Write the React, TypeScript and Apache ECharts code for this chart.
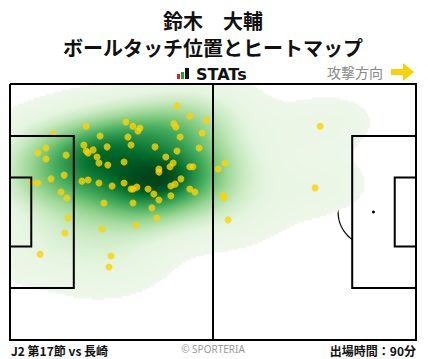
import React, { useEffect, useRef } from "react";
import * as echarts from "echarts";

const PLAYER = "鈴木　大輔";
const SUBTITLE = "ボールタッチ位置とヒートマップ";
const MATCH = "J2 第17節 vs 長崎";
const MINUTES = "出場時間：90分";
const ATTACK = "攻撃方向";
const COPYRIGHT = "© SPORTERIA";

// ball touch positions, metres (x from own goal line 0..105, y from top touchline 0..68)
const touchX = [
  43.2, 46.5, 50.9, 19.7, 30.0, 31.8, 33.6, 33.1, 42.4, 42.9,
  11.1, 23.3, 30.5, 49.7, 44.0, 19.1, 31.3, 25.1, 37.5, 48.9,
  9.3, 7.2, 14.5, 43.2, 19.7, 20.2, 21.5, 9.3, 22.5, 40.3,
  23.0, 29.5, 25.3, 42.2, 41.4, 38.5, 38.5, 46.5, 47.3, 14.0,
  10.6, 5.4, 7.2, 18.6, 20.2, 23.0, 26.4, 29.5, 31.3, 31.8,
  32.8, 35.7, 37.2, 44.2, 42.7, 41.6, 46.5, 47.8, 41.6, 38.5,
  13.2, 14.7, 24.3, 31.8, 36.7, 15.0, 38.0, 14.2, 23.8, 32.6,
  7.8, 26.1, 25.6, 53.8, 55.6, 55.1, 55.3, 56.4, 80.2, 78.9,
];
const touchY = [
  5.8, 8.5, 9.6, 11.2, 10.1, 11.2, 11.7, 12.5, 10.6, 11.4,
  13.3, 13.8, 14.1, 13.0, 14.1, 16.2, 16.2, 16.7, 16.7, 17.0,
  17.0, 18.3, 18.9, 17.8, 17.8, 18.3, 17.5, 19.9, 19.4, 19.4,
  21.0, 20.7, 21.5, 21.0, 22.0, 22.6, 23.4, 22.0, 22.0, 24.2,
  25.2, 26.3, 26.3, 25.8, 25.5, 26.3, 27.1, 26.3, 27.9, 27.9,
  27.4, 27.9, 29.2, 25.2, 26.6, 27.1, 27.9, 28.7, 29.7, 30.8,
  28.7, 30.3, 31.6, 31.6, 32.9, 35.6, 35.6, 39.6, 38.5, 37.5,
  45.2, 45.7, 48.6, 22.6, 21.0, 29.5, 30.3, 36.1, 11.2, 27.6,
];

const PITCH_L = 105;
const PITCH_W = 68;
const COLS = 203;
const ROWS = 128;
const BW_ADJUST = 1.2;
const CUT_LEVEL = 0.36; // in units of one touch's kernel peak
const GAMMA = 0.85;
const GREENS = ["#eef7ea", "#e5f5e0", "#c7e9c0", "#a1d99b", "#74c476", "#41ab5d", "#238b45", "#006d2c", "#00441b"];

function buildDensity() {
  const n = touchX.length;
  let mx = 0, my = 0;
  for (let k = 0; k < n; k++) { mx += touchX[k]; my += touchY[k]; }
  mx /= n; my /= n;
  let sxx = 0, syy = 0, sxy = 0;
  for (let k = 0; k < n; k++) {
    const dx = touchX[k] - mx, dy = touchY[k] - my;
    sxx += dx * dx; syy += dy * dy; sxy += dx * dy;
  }
  sxx /= n - 1; syy /= n - 1; sxy /= n - 1;
  const f = Math.pow(n, -1 / 6) * BW_ADJUST;
  const a = sxx * f * f, d = syy * f * f, b = sxy * f * f;
  const det = a * d - b * b;
  const ia = d / det, id = a / det, ib = -b / det;
  const dens = new Float64Array(COLS * ROWS);
  for (let j = 0; j < ROWS; j++) {
    const y = ((j + 0.5) * PITCH_W) / ROWS;
    for (let i = 0; i < COLS; i++) {
      const x = ((i + 0.5) * PITCH_L) / COLS;
      let s = 0;
      for (let k = 0; k < n; k++) {
        const dx = x - touchX[k], dy = y - touchY[k];
        s += Math.exp(-0.5 * (ia * dx * dx + 2 * ib * dx * dy + id * dy * dy));
      }
      dens[j * COLS + i] = s;
    }
  }
  const order = Array.from({ length: COLS * ROWS }, (_, k) => k);
  order.sort((p, q) => dens[p] - dens[q]);
  let total = 0;
  for (let k = 0; k < dens.length; k++) total += dens[k];
  const prop = new Float64Array(dens.length);
  let cum = 0;
  let cutProp = 1;
  for (const k of order) {
    prop[k] = cum / total;
    if (dens[k] >= CUT_LEVEL && prop[k] < cutProp) cutProp = prop[k];
    cum += dens[k];
  }
  const out: number[][] = [];
  for (let k = 0; k < dens.length; k++) {
    if (dens[k] >= CUT_LEVEL) {
      const t = Math.max(0, (prop[k] - cutProp) / (1 - cutProp));
      out.push([k % COLS, Math.floor(k / COLS), Math.pow(t, GAMMA)]);
    }
  }
  return out;
}

// pitch geometry (metres)
const BOX_D = 16.5, BOX_W = 40.32, GA_D = 5.5, GA_W = 18.32, SPOT = 11, ARC_R = 9.15;

function pitchLines(params: any, api: any) {
  const c = (x: number, y: number) => api.coord([x, y]);
  const st = { stroke: "#000", lineWidth: 2, fill: null };
  const poly = (pts: number[][]) => ({ type: "polyline", shape: { points: pts.map((p) => c(p[0], p[1])) }, style: st });
  const bt = (PITCH_W - BOX_W) / 2, bb = bt + BOX_W;
  const gt = (PITCH_W - GA_W) / 2, gb = gt + GA_W;
  const L = PITCH_L;
  return {
    type: "group",
    children: [
      poly([[0, 0], [L, 0], [L, PITCH_W], [0, PITCH_W], [0, 0]]),
      poly([[L / 2, 0], [L / 2, PITCH_W]]),
      poly([[0, bt], [BOX_D, bt], [BOX_D, bb], [0, bb]]),
      poly([[0, gt], [GA_D, gt], [GA_D, gb], [0, gb]]),
      poly([[L, bt], [L - BOX_D, bt], [L - BOX_D, bb], [L, bb]]),
      poly([[L, gt], [L - GA_D, gt], [L - GA_D, gb], [L, gb]]),
    ],
  };
}

function pitchArcs(params: any, api: any) {
  const st = { stroke: "#000", lineWidth: 1.2, fill: null };
  const arc = (cx: number, cy: number, a0: number, a1: number) => {
    const pts: number[][] = [];
    for (let s = 0; s <= 60; s++) {
      const a = a0 + ((a1 - a0) * s) / 60;
      pts.push(api.coord([cx + ARC_R * Math.cos(a), cy + ARC_R * Math.sin(a)]));
    }
    return { type: "polyline", shape: { points: pts }, style: st };
  };
  const th = Math.acos((BOX_D - SPOT) / ARC_R);
  const spotL = api.coord([SPOT, PITCH_W / 2]), spotR = api.coord([PITCH_L - SPOT, PITCH_W / 2]);
  return {
    type: "group",
    children: [
      arc(PITCH_L / 2, PITCH_W / 2, 0, Math.PI * 2),
      arc(SPOT, PITCH_W / 2, -th, th),
      arc(PITCH_L - SPOT, PITCH_W / 2, Math.PI - th, Math.PI + th),
      { type: "circle", shape: { cx: spotL[0], cy: spotL[1], r: 1.5 }, style: { fill: "#000" } },
      { type: "circle", shape: { cx: spotR[0], cy: spotR[1], r: 1.5 }, style: { fill: "#000" } },
    ],
  };
}

export default function App() {
  const ref = useRef<HTMLDivElement>(null);
  useEffect(() => {
    if (!ref.current) return;
    const chart = echarts.init(ref.current, null, { renderer: "svg" });
    const heat = buildDensity();
    const touches = touchX.map((x, k) => [x, touchY[k]]);
    const grid = { left: 10, top: 84, width: 406, height: 256 };
    const jp = '"Noto Sans CJK JP", "Noto Sans", sans-serif';
    chart.setOption({
      animation: false,
      backgroundColor: "#fff",
      grid: [grid, { ...grid }],
      xAxis: [
        { type: "category", gridIndex: 0, data: Array.from({ length: COLS }, (_, i) => i), show: false },
        { type: "value", gridIndex: 1, min: 0, max: PITCH_L, show: false },
      ],
      yAxis: [
        { type: "category", gridIndex: 0, inverse: true, data: Array.from({ length: ROWS }, (_, i) => i), show: false },
        { type: "value", gridIndex: 1, min: 0, max: PITCH_W, inverse: true, show: false },
      ],
      visualMap: {
        type: "continuous", show: false, min: 0, max: 1, seriesIndex: 0,
        inRange: { color: GREENS },
      },
      series: [
        {
          type: "heatmap", xAxisIndex: 0, yAxisIndex: 0, data: heat, z: 2,
          progressive: 0, emphasis: { disabled: true }, silent: true,
        },
        {
          type: "custom", xAxisIndex: 1, yAxisIndex: 1, data: [[0, 0]], z: 1,
          renderItem: pitchArcs, silent: true,
        },
        {
          type: "scatter", xAxisIndex: 1, yAxisIndex: 1, data: touches, z: 4,
          symbolSize: 7, itemStyle: { color: "#ffd200" }, silent: true,
        },
        {
          type: "custom", xAxisIndex: 1, yAxisIndex: 1, data: [[0, 0]], z: 5,
          renderItem: pitchLines, silent: true,
        },
      ],
      graphic: [
        { type: "text", x: 213, y: 20.5, style: { text: PLAYER, font: `bold 20px ${jp}`, fill: "#111", align: "center", verticalAlign: "middle" } },
        { type: "text", x: 213, y: 47, style: { text: SUBTITLE, font: `bold 20px ${jp}`, fill: "#111", align: "center", verticalAlign: "middle" } },
        { type: "rect", shape: { x: 177, y: 74, width: 3, height: 5 }, style: { fill: "#e02020" } },
        { type: "rect", shape: { x: 181, y: 72, width: 3, height: 7 }, style: { fill: "#2aa02a" } },
        { type: "rect", shape: { x: 185, y: 68, width: 4, height: 11 }, style: { fill: "#111" } },
        { type: "text", x: 196, y: 74, style: { text: "STATs", font: 'bold 16px "DejaVu Sans", sans-serif', fill: "#111", align: "left", verticalAlign: "middle" } },
        { type: "text", x: 383, y: 72, style: { text: ATTACK, font: `14px ${jp}`, fill: "#888", align: "right", verticalAlign: "middle" } },
        { type: "polygon", shape: { points: [[391, 69], [403, 69], [403, 63], [414, 72], [403, 81], [403, 75], [391, 75]] }, style: { fill: "#fad200" } },
        { type: "text", x: 11, y: 350, style: { text: MATCH, font: `bold 12px ${jp}`, fill: "#111", align: "left", verticalAlign: "middle" } },
        { type: "text", x: 213, y: 349, style: { text: COPYRIGHT, font: '10px "Noto Sans", sans-serif', fill: "#999", align: "center", verticalAlign: "middle" } },
        { type: "text", x: 416, y: 350, style: { text: MINUTES, font: `bold 12px ${jp}`, fill: "#111", align: "right", verticalAlign: "middle" } },
      ],
    });
    return () => chart.dispose();
  }, []);
  return <div ref={ref} style={{ position: "absolute", left: 0, top: 0, width: 428, height: 359, background: "#fff" }} />;
}
